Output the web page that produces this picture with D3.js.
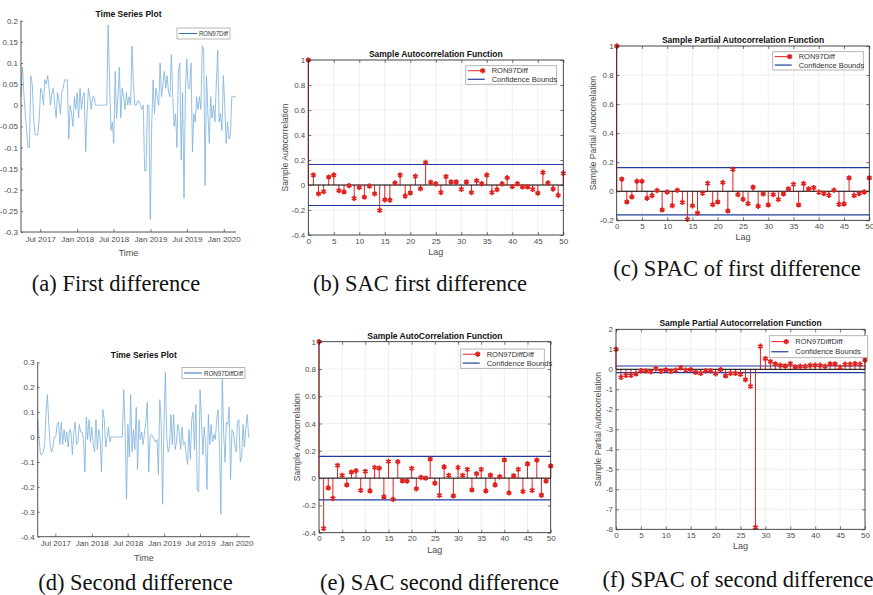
<!DOCTYPE html>
<html>
<head>
<meta charset="utf-8">
<script src="https://cdn.jsdelivr.net/npm/d3@7"></script>
<style>
  body { margin: 0; background: #fff; }
  svg text { font-family: "Liberation Sans", Arial, sans-serif; }
</style>
</head>
<body>
<svg id="fig" width="873" height="595"></svg>
<script>
// ---- data ----
const lags = d3.range(51);
const lagTicks = [0, 5, 10, 15, 20, 25, 30, 35, 40, 45, 50];

// weekly first difference of RON97 price
const ronDiffStart = "2017-03-27";
const ronDiff = [
  0.02, 0.09, 0.03, -0.02, -0.06, -0.10, -0.10, 0.07, 0.05, -0.03,
  -0.07, -0.07, -0.07, -0.03, 0.04, 0.03, 0.00, 0.06, 0.05, 0.07,
  0.04, 0.00, 0.03, 0.04, 0.00, -0.03, 0.03, 0.01, -0.02, 0.03,
  0.04, 0.06, 0.06, 0.06, -0.08, 0.00, -0.02, -0.05, 0.02, -0.01,
  0.03, -0.03, 0.04, -0.01, 0.02, 0.03, -0.11, -0.02, 0.04, 0.02,
  -0.01, 0.02, 0.02, 0.00, 0.00, 0.00, 0.00, 0.00, 0.00, 0.00,
  0.00, 0.00, 0.19, 0.06, -0.06, -0.04, -0.09, 0.08, -0.03, 0.02,
  0.09, -0.03, 0.04, 0.02, -0.01, 0.03, 0.00, 0.02, 0.00, 0.14,
  0.05, 0.00, 0.00, 0.01, 0.01, 0.00, -0.01, 0.00, -0.155, -0.155,
  0.00, 0.00, -0.27, -0.05, 0.06, -0.02, 0.04, 0.02, 0.00, 0.10,
  0.02, 0.05, 0.08, 0.04, 0.07, 0.03, 0.02, 0.12, 0.02, -0.05,
  -0.02, -0.10, 0.08, 0.10, -0.13, 0.03, -0.22, 0.04, 0.11, 0.04,
  0.04, 0.10, -0.11, -0.02, -0.04, 0.02, -0.01, 0.02, -0.01, 0.14,
  0.13, -0.19, 0.07, -0.02, -0.09, 0.02, -0.03, 0.00, -0.04, 0.05,
  0.13, -0.04, -0.02, -0.06, 0.07, 0.00, -0.09, -0.04, -0.08, -0.07,
  0.02, 0.02, 0.02, 0.02
];

// weekly second difference
const ronDiffDiffStart = "2017-04-03";
const ronDiffDiff = [
  0.07, -0.01, -0.07, -0.07, -0.06, -0.03, 0.10, 0.17, 0.05, -0.03,
  -0.06, -0.04, 0.00, 0.00, 0.05, 0.06, -0.03, 0.06, -0.03, 0.03,
  -0.02, 0.02, -0.04, 0.03, 0.02, -0.07, 0.02, 0.06, -0.03, -0.02,
  0.05, 0.02, 0.02, -0.01, -0.14, 0.08, -0.01, 0.07, -0.02, 0.04,
  -0.03, -0.06, 0.07, -0.05, 0.03, -0.01, -0.14, 0.11, 0.07, -0.04,
  0.00, 0.04, -0.02, 0.00, 0.00, 0.00, 0.00, 0.00, 0.00, 0.00,
  0.00, 0.00, 0.19, 0.03, -0.25, 0.05, -0.08, 0.17, -0.06, 0.03,
  -0.05, 0.12, -0.13, 0.07, -0.01, 0.02, -0.03, 0.02, 0.06, 0.14,
  -0.14, 0.00, 0.01, 0.00, -0.01, -0.02, -0.01, -0.15, 0.15, 0.05,
  -0.27, 0.05, 0.26, 0.00, -0.06, -0.04, 0.09, -0.03, 0.09, -0.05,
  -0.02, 0.05, 0.02, -0.05, 0.04, -0.03, -0.02, -0.07, -0.11, 0.03,
  -0.09, 0.07, 0.10, -0.05, 0.13, -0.21, -0.22, 0.19, 0.07, -0.07,
  0.04, -0.03, -0.21, 0.09, -0.03, 0.05, -0.02, 0.01, -0.01, 0.07,
  0.11, -0.04, -0.31, 0.24, 0.02, -0.10, 0.06, 0.05, 0.12, -0.17,
  0.03, 0.02, -0.03, -0.06, 0.06, 0.07, -0.10, -0.08, 0.05, -0.04,
  0.04, 0.09, 0.00, 0.00
];

const timeTickDates = ["2017-07-01", "2018-01-01", "2018-07-01", "2019-01-01", "2019-07-01", "2020-01-01"];
const timeTickLabels = ["Jul 2017", "Jan 2018", "Jul 2018", "Jan 2019", "Jul 2019", "Jan 2020"];
const ronDiffYTicks = [-0.3, -0.25, -0.2, -0.15, -0.1, -0.05, 0, 0.05, 0.1, 0.15, 0.2];
const ronDiffDiffYTicks = [-0.4, -0.3, -0.2, -0.1, 0, 0.1, 0.2, 0.3];

// sample ACF / PACF, lags 0..50
const sacFirst = [
  1, 0.08, -0.07, -0.053, 0.063, 0.08, -0.045, -0.055, -0.005, -0.107,
  -0.02, -0.097, -0.008, -0.07, -0.203, -0.118, -0.12, 0.016, 0.08, -0.088,
  -0.063, 0.07, -0.03, 0.18, 0.022, 0.01, -0.06, 0.067, 0.025, 0.025,
  -0.035, 0.025, -0.06, 0.035, 0.01, 0.08, -0.06, -0.037, 0.01, 0.058,
  -0.013, 0.01, -0.015, -0.015, -0.035, -0.065, 0.1, 0.016, -0.032, -0.082,
  0.093
];
const spacFirst = [
  1, 0.083, -0.073, -0.039, 0.069, 0.069, -0.048, -0.03, 0.005, -0.128,
  -0.005, -0.099, 0.007, -0.076, -0.193, -0.1, -0.151, -0.014, 0.055, -0.092,
  -0.073, 0.06, -0.135, 0.151, -0.023, -0.055, -0.085, 0.028, -0.103, -0.018,
  -0.094, -0.023, -0.057, -0.018, 0.016, 0.048, -0.094, 0.053, 0.016, 0.025,
  -0.007, -0.016, -0.028, 0.007, -0.09, -0.087, 0.092, -0.03, -0.016, -0.005,
  0.092
];
const sacSecond = [
  1, -0.369, -0.071, -0.149, 0.093, 0.02, -0.049, 0.044, 0.054, -0.09,
  0.049, -0.093, 0.078, 0.073, -0.137, 0.122, -0.156, 0.12, -0.02, -0.022,
  0.071, -0.078, 0.005, 0, 0.139, -0.037, -0.127, 0.083, 0.02, -0.13,
  0.078, 0.02, 0.064, -0.086, 0.032, 0.064, -0.093, 0.022, -0.049, 0.01,
  0.134, -0.108, 0.017, 0.064, -0.098, 0.105, -0.09, 0.132, -0.125, -0.022,
  0.09
];
const spacSecond = [
  1, -0.4, -0.3, -0.3, -0.23, -0.07, -0.08, -0.12, 0.03, -0.1,
  -0.03, -0.1, -0.05, 0.08, -0.05, -0.02, -0.15, -0.2, -0.07, -0.07,
  -0.22, -0.02, -0.33, -0.2, -0.2, -0.25, -0.52, -0.85, -7.9, 1.15,
  0.53, 0.38, 0.27, 0.2, 0.17, 0.28, 0.12, 0.15, 0.15, 0.2,
  0.2, 0.2, 0.15, 0.27, 0.27, 0.1, 0.25, 0.25, 0.28, 0.25,
  0.47
];
const confFirst = 0.164;
const confFirstPartial = 0.162;
const confSecond = 0.16;
const confSecondPartial = 0.165;

const yTicksAcf = [-0.4, -0.2, 0, 0.2, 0.4, 0.6, 0.8, 1];
const yTicksPacf1 = [-0.2, 0, 0.2, 0.4, 0.6, 0.8, 1];
const yTicksPacf2 = [-8, -7, -6, -5, -4, -3, -2, -1, 0, 1, 2];

// ---- drawing ----
const svg = d3.select("#fig");
const parse = d3.utcParse("%Y-%m-%d");
const axisInk = "#262626", tickInk = "#4d4d4d";
const red = "#e0231f", blue = "#1f3c9e";

function styleAxis(sel) {
  sel.select(".domain").remove();
  sel.selectAll(".tick line").attr("stroke", axisInk).attr("stroke-width", 0.6);
  sel.selectAll(".tick text").attr("fill", tickInk).attr("font-size", 8);
}

function tsPanel(p) {
  const g = svg.append("g");
  const start = parse(p.start);
  const dates = p.values.map((_, i) => d3.utcDay.offset(start, 7 * i));
  const x = d3.scaleUtc().domain(d3.extent(dates)).range([p.x0, p.x1]);
  const y = d3.scaleLinear().domain([p.yTicks[0], p.yTicks[p.yTicks.length - 1]]).range([p.y1, p.y0]);

  g.append("path")
    .datum(p.values)
    .attr("fill", "none")
    .attr("stroke", "#7ab0dc")
    .attr("stroke-width", 0.8)
    .attr("stroke-linejoin", "round")
    .attr("d", d3.line().x((d, i) => x(dates[i])).y(d => y(d)));

  const xa = g.append("g").attr("transform", `translate(0,${p.y1})`)
    .call(d3.axisBottom(x).tickValues(timeTickDates.map(parse))
      .tickFormat((d, i) => timeTickLabels[i]).tickSize(-3).tickPadding(4));
  styleAxis(xa);
  const ya = g.append("g").attr("transform", `translate(${p.x0},0)`)
    .call(d3.axisLeft(y).tickValues(p.yTicks).tickFormat(d => String(d)).tickSize(-2).tickPadding(3));
  styleAxis(ya);
  g.append("path")
    .attr("d", `M${p.x0},${p.y0}V${p.y1}H${p.x1}`)
    .attr("fill", "none").attr("stroke", axisInk).attr("stroke-width", 0.8);

  g.append("text").attr("x", (p.x0 + p.x1) / 2).attr("y", p.y0 - 4)
    .attr("text-anchor", "middle").attr("font-size", 8.5).attr("font-weight", "bold")
    .attr("fill", "#111").text("Time Series Plot");
  g.append("text").attr("x", (p.x0 + p.x1) / 2).attr("y", p.y1 + 24)
    .attr("text-anchor", "middle").attr("font-size", 9).attr("fill", tickInk).text("Time");

  const L = p.legend;
  g.append("rect").attr("x", L.x).attr("y", L.y).attr("width", L.w).attr("height", L.h)
    .attr("fill", "#fff").attr("stroke", "#a6a6a6").attr("stroke-width", 0.8);
  g.append("line").attr("x1", L.x + 2).attr("x2", L.x + 20).attr("y1", L.y + L.h / 2).attr("y2", L.y + L.h / 2)
    .attr("stroke", "#2f6fb0").attr("stroke-width", 1);
  g.append("text").attr("x", L.x + 22).attr("y", L.y + L.h / 2 + 2.5)
    .attr("font-size", 6.8).attr("fill", "#333")
    .attr("textLength", L.w - 24).attr("lengthAdjust", "spacingAndGlyphs").text(p.name);
}

function acfPanel(p) {
  const g = svg.append("g");
  const x = d3.scaleLinear().domain([0, 50]).range([p.x0, p.x1]);
  const y = d3.scaleLinear().domain([p.yTicks[0], p.yTicks[p.yTicks.length - 1]]).range([p.y1, p.y0]);

  // grid
  g.append("g").selectAll("line").data(lagTicks).join("line")
    .attr("x1", d => x(d)).attr("x2", d => x(d)).attr("y1", p.y0).attr("y2", p.y1)
    .attr("stroke", "#e8e8e8").attr("stroke-width", 0.7);
  g.append("g").selectAll("line").data(p.yTicks).join("line")
    .attr("y1", d => y(d)).attr("y2", d => y(d)).attr("x1", p.x0).attr("x2", p.x1)
    .attr("stroke", "#e8e8e8").attr("stroke-width", 0.7);

  // confidence bounds
  g.append("g").selectAll("line").data([p.conf, -p.conf]).join("line")
    .attr("y1", d => y(d)).attr("y2", d => y(d)).attr("x1", p.x0).attr("x2", p.x1)
    .attr("stroke", blue).attr("stroke-width", 1.2);

  // stems
  g.append("g").selectAll("line").data(p.values).join("line")
    .attr("x1", (d, i) => x(lags[i])).attr("x2", (d, i) => x(lags[i]))
    .attr("y1", y(0)).attr("y2", d => y(d))
    .attr("stroke", red).attr("stroke-width", 1);

  // baseline
  g.append("line").attr("x1", p.x0).attr("x2", p.x1).attr("y1", y(0)).attr("y2", y(0))
    .attr("stroke", "#000").attr("stroke-width", 1);

  // markers
  const star = d3.symbol().type(d3.symbolAsterisk).size(20);
  g.append("g").selectAll("path").data(p.values).join("path")
    .attr("transform", (d, i) => `translate(${x(lags[i])},${y(d)})`)
    .attr("d", star).attr("fill", "none").attr("stroke", red).attr("stroke-width", 1.7);

  // axes
  const xa = g.append("g").attr("transform", `translate(0,${p.y1})`)
    .call(d3.axisBottom(x).tickValues(lagTicks).tickSize(-3).tickPadding(3));
  styleAxis(xa);
  const xt = g.append("g").attr("transform", `translate(0,${p.y0})`)
    .call(d3.axisTop(x).tickValues(lagTicks).tickSize(-3).tickFormat(""));
  styleAxis(xt);
  const ya = g.append("g").attr("transform", `translate(${p.x0},0)`)
    .call(d3.axisLeft(y).tickValues(p.yTicks).tickFormat(d => String(d)).tickSize(-3).tickPadding(3));
  styleAxis(ya);
  const yr = g.append("g").attr("transform", `translate(${p.x1},0)`)
    .call(d3.axisRight(y).tickValues(p.yTicks).tickSize(-3).tickFormat(""));
  styleAxis(yr);
  g.append("rect").attr("x", p.x0).attr("y", p.y0).attr("width", p.x1 - p.x0).attr("height", p.y1 - p.y0)
    .attr("fill", "none").attr("stroke", axisInk).attr("stroke-width", 0.8);

  g.append("text").attr("x", (p.x0 + p.x1) / 2).attr("y", p.y0 - 3)
    .attr("text-anchor", "middle").attr("font-size", 8.5).attr("font-weight", "bold")
    .attr("fill", "#111").text(p.title);
  g.append("text").attr("x", (p.x0 + p.x1) / 2).attr("y", p.y1 + 20)
    .attr("text-anchor", "middle").attr("font-size", 9).attr("fill", tickInk).text("Lag");
  g.append("text").attr("transform", `translate(${p.ylabX},${(p.y0 + p.y1) / 2}) rotate(-90)`)
    .attr("text-anchor", "middle").attr("font-size", 8.5).attr("fill", tickInk).text(p.ylab);

  // legend
  const L = p.legend;
  g.append("rect").attr("x", L.x).attr("y", L.y).attr("width", L.w).attr("height", L.h)
    .attr("fill", "#fff").attr("stroke", "#a6a6a6").attr("stroke-width", 0.8);
  const r1 = L.y + L.h * 0.27, r2 = L.y + L.h * 0.73;
  g.append("line").attr("x1", L.x + 2).attr("x2", L.x + 19).attr("y1", r1).attr("y2", r1)
    .attr("stroke", red).attr("stroke-width", 1);
  g.append("path").attr("transform", `translate(${L.x + 17},${r1})`).attr("d", star)
    .attr("fill", "none").attr("stroke", red).attr("stroke-width", 1.7);
  g.append("line").attr("x1", L.x + 2).attr("x2", L.x + 19).attr("y1", r2).attr("y2", r2)
    .attr("stroke", blue).attr("stroke-width", 1.2);
  g.append("text").attr("x", L.x + 26).attr("y", r1 + 2.7).attr("font-size", 7.5).attr("fill", "#333").text(p.name);
  g.append("text").attr("x", L.x + 26).attr("y", r2 + 2.7).attr("font-size", 7.5).attr("fill", "#333").text("Confidence Bounds");
}

tsPanel({ x0: 21, x1: 236, y0: 20.7, y1: 232, start: ronDiffStart, values: ronDiff, yTicks: ronDiffYTicks,
  name: "RON97Diff", legend: { x: 177, y: 28, w: 53, h: 11 } });
tsPanel({ x0: 37.7, x1: 250, y0: 362.3, y1: 536.7, start: ronDiffDiffStart, values: ronDiffDiff, yTicks: ronDiffDiffYTicks,
  name: "RON97DiffDiff", legend: { x: 182, y: 367.5, w: 63, h: 11 } });

acfPanel({ x0: 308.3, x1: 563.3, y0: 60, y1: 235, values: sacFirst, conf: confFirst, yTicks: yTicksAcf,
  title: "Sample Autocorrelation Function", ylab: "Sample Autocorrelation", ylabX: 288,
  name: "RON97Diff", legend: { x: 465.7, y: 65.7, w: 91, h: 18.6 } });
acfPanel({ x0: 616.7, x1: 869.3, y0: 46, y1: 220.3, values: spacFirst, conf: confFirstPartial, yTicks: yTicksPacf1,
  title: "Sample Partial Autocorrelation Function", ylab: "Sample Partial Autocorrelation", ylabX: 596,
  name: "RON97Diff", legend: { x: 772.7, y: 51.7, w: 90.6, h: 18.3 } });
acfPanel({ x0: 319, x1: 550.7, y0: 341.7, y1: 532.7, values: sacSecond, conf: confSecond, yTicks: yTicksAcf,
  title: "Sample AutoCorrelation Function", ylab: "Sample Autocorrelation", ylabX: 299.5,
  name: "RON97DiffDiff", legend: { x: 460.7, y: 349, w: 83.6, h: 19.3 } });
acfPanel({ x0: 616, x1: 865, y0: 329.3, y1: 529.3, values: spacSecond, conf: confSecondPartial, yTicks: yTicksPacf2,
  title: "Sample Partial Autocorrelation Function", ylab: "Sample Partial Autocorrelation", ylabX: 601,
  name: "RON97DiffDiff", legend: { x: 769.3, y: 335.7, w: 98.4, h: 22 } });

// captions
const captions = [
  { text: "(a) First difference", x: 116, y: 291 },
  { text: "(b) SAC first difference", x: 420, y: 291 },
  { text: "(c) SPAC of first difference", x: 737, y: 276 },
  { text: "(d) Second difference", x: 135.5, y: 590 },
  { text: "(e) SAC second difference", x: 439.5, y: 590 },
  { text: "(f) SPAC of second difference", x: 738, y: 587 }
];
svg.append("g").selectAll("text").data(captions).join("text")
  .attr("x", d => d.x).attr("y", d => d.y).attr("text-anchor", "middle")
  .style("font-family", "'Liberation Serif', 'Times New Roman', serif")
  .attr("font-size", 22.5).attr("fill", "#111").text(d => d.text);
</script>
</body>
</html>
